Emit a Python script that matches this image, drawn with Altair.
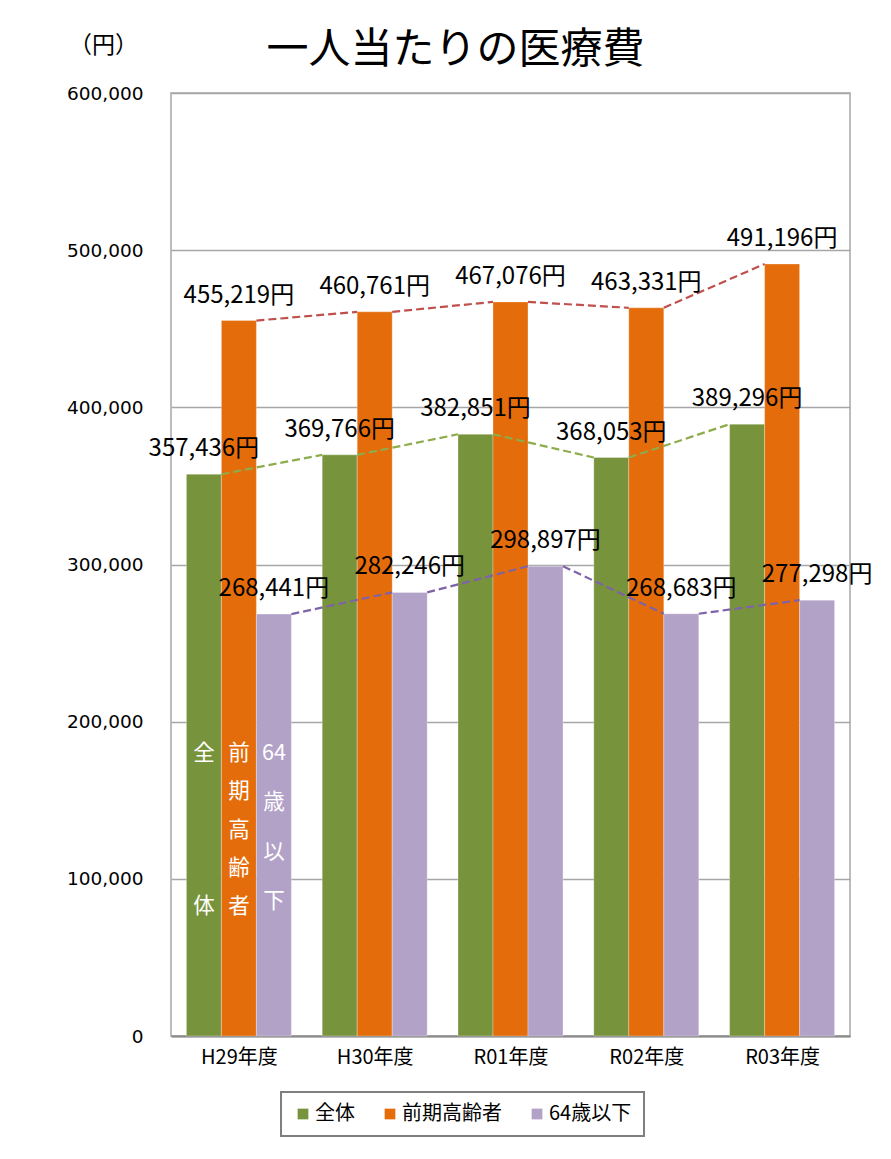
import json
import altair as alt
import pandas as pd

# ---- data ----
categories = ["H29年度", "H30年度", "R01年度", "R02年度", "R03年度"]
series = ["全体", "前期高齢者", "64歳以下"]
zentai = [357436, 369766, 382851, 368053, 389296]
zenki = [455219, 460761, 467076, 463331, 491196]
under64 = [268441, 282246, 298897, 268683, 277298]
values_by_series = [zentai, zenki, under64]

inbar_lines = [["全", "体"], ["前", "期", "高", "齢", "者"], ["64", "歳", "以", "下"]]
inbar_line_height = [153, 38.25, 49.3]

bar_colors = ["#77933C", "#E46C0A", "#B3A2C7"]
line_colors = ["#8DAC4B", "#C0504D", "#7F63A8"]

BW = 35 / 135.8  # bar width in category units
FONT = "Noto Sans CJK JP"

rows = []
for j, s in enumerate(series):
    for i, c in enumerate(categories):
        left = i - 1.5 * BW + j * BW
        v = values_by_series[j][i]
        rows.append(dict(cat=c, idx=i, series=s, sidx=j, value=v,
                         left=left, right=left + BW, center=left + BW / 2,
                         label=f"{v:,}円"))
bars = pd.DataFrame(rows)

segs = []
for j, s in enumerate(series):
    vals = values_by_series[j]
    for i in range(len(categories) - 1):
        segs.append(dict(series=s, x1=i - 1.5 * BW + (j + 1) * BW,
                         x2=(i + 1) - 1.5 * BW + j * BW,
                         y1=vals[i], y2=vals[i + 1]))
segdf = pd.DataFrame(segs)

inbar = pd.DataFrame([dict(series=s, center=-1.5 * BW + j * BW + BW / 2,
                           lines=inbar_lines[j], y=175600)
                      for j, s in enumerate(series)])

label_expr = json.dumps(categories, ensure_ascii=False) + "[datum.value]"

xscale = alt.Scale(domain=[-0.5, 4.5], nice=False, zero=False)
yscale = alt.Scale(domain=[0, 600000], nice=False)

xaxis = alt.Axis(values=[0, 1, 2, 3, 4], labelExpr=label_expr, title=None,
                 ticks=False, grid=False, domainColor="#898989", domainWidth=2,
                 labelFont=FONT, labelFontSize=20, labelColor="#000000",
                 labelPadding=11)
yaxis = alt.Axis(values=[0, 100000, 200000, 300000, 400000, 500000, 600000],
                 format=",d", ticks=False, domain=False, grid=True,
                 gridColor="#A6A6A6", gridWidth=1.5,
                 labelFont="DejaVu Sans", labelFontSize=18.5, labelColor="#000000",
                 labelPadding=28,
                 title="（円）", titleAngle=0, titleX=-68, titleY=-48,
                 titleAlign="center", titleBaseline="middle",
                 titleFont=FONT, titleFontSize=23, titleFontWeight="normal",
                 titleColor="#000000")


def X(field):
    return alt.X(field, scale=xscale, axis=xaxis, title=None)


def Y(field):
    return alt.Y(field, scale=yscale, axis=yaxis, title="（円）")


bar_layer = alt.Chart(bars).mark_rect(stroke="white", strokeWidth=0.6, strokeOpacity=0.5).encode(
    x=X("left:Q"),
    x2="right:Q",
    y=Y("value:Q"),
    y2=alt.datum(0),
    color=alt.Color("series:N", sort=series,
                    scale=alt.Scale(domain=series, range=bar_colors),
                    legend=alt.Legend(title=None, orient="none", direction="horizontal",
                                      legendX=110, legendY=999,
                                      symbolType="square", symbolSize=115,
                                      symbolStrokeWidth=0,
                                      labelFont=FONT, labelFontSize=20,
                                      labelColor="#000000", columnPadding=25,
                                      padding=12, labelOffset=2,
                                      strokeColor="#7F7F7F")),
)

line_layer = alt.Chart(segdf).mark_rule(strokeDash=[8, 4], strokeWidth=2.2).encode(
    x=X("x1:Q"),
    x2="x2:Q",
    y=Y("y1:Q"),
    y2="y2:Q",
    stroke=alt.Stroke("series:N", scale=alt.Scale(domain=series, range=line_colors),
                      legend=None),
)

text_layer = alt.Chart(bars).mark_text(font=FONT, fontSize=24, baseline="alphabetic",
                                       align="center", dy=-18, color="#000000").encode(
    x=X("center:Q"),
    y=Y("value:Q"),
    text="label:N",
)

inbar_layers = []
for j, s in enumerate(series):
    inbar_layers.append(
        alt.Chart(inbar).transform_filter(
            alt.FieldEqualPredicate(field="series", equal=s)
        ).mark_text(font=FONT, fontSize=21.5, baseline="alphabetic", align="center",
                    color="white", lineHeight=inbar_line_height[j]).encode(
            x=X("center:Q"),
            y=Y("y:Q"),
            text="lines",
        )
    )

chart = alt.layer(bar_layer, line_layer, text_layer, *inbar_layers).properties(
    width=679, height=943,
    autosize=alt.AutoSizeParams(type="none"),
    padding={"left": 163, "top": 85, "right": 30, "bottom": 110},
    title=alt.TitleParams("一人当たりの医療費", font=FONT, fontSize=42,
                          fontWeight="normal", color="#000000", anchor="middle",
                          frame="group", dx=-55, dy=54, offset=-17, baseline="alphabetic"),
).configure_view(stroke="#A6A6A6", strokeWidth=1.5).configure_legend(
    strokeWidth=2
)

chart.save("out.html", embed_options={"renderer": "svg", "actions": False})
